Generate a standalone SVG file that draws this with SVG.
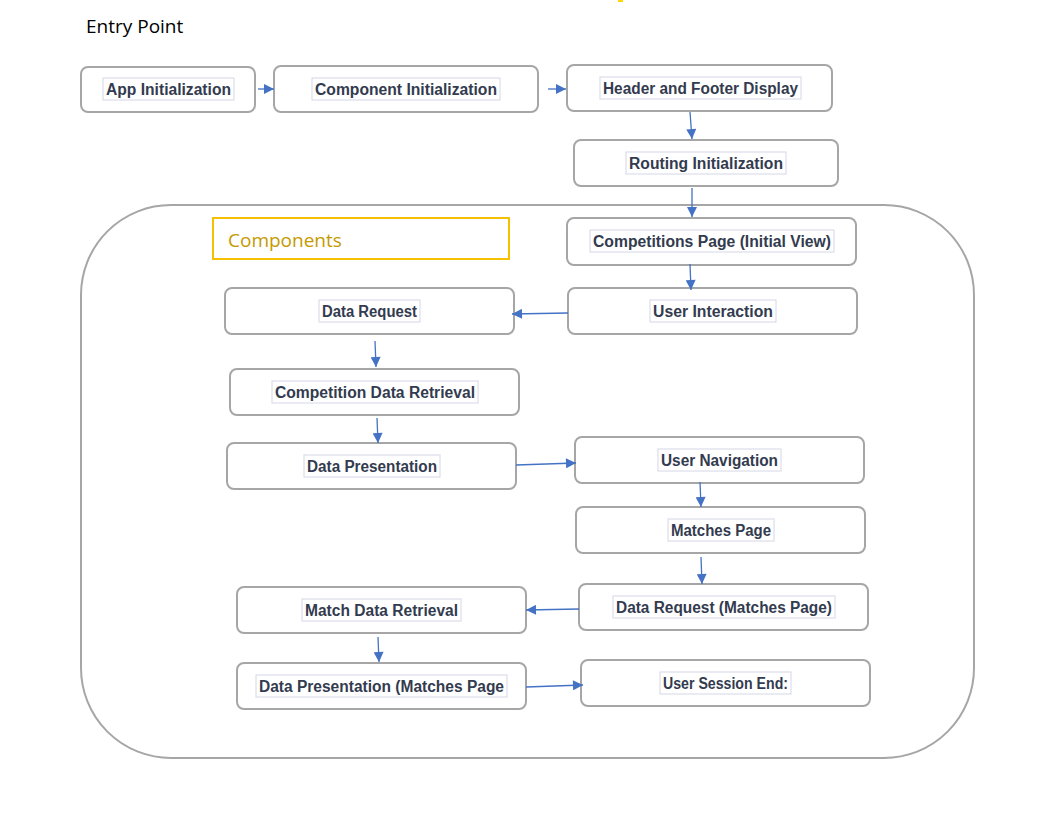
<svg xmlns="http://www.w3.org/2000/svg" width="1046" height="821" viewBox="0 0 1046 821">
<style>
.node{fill:#fff;stroke:#a6a6a6;stroke-width:2}
.lbl{fill:#fff;stroke:#d6d8e6;stroke-width:1}
.t{font-family:"Liberation Sans",Arial,sans-serif;font-weight:bold;font-size:16px;fill:#333b4f;text-anchor:middle;dominant-baseline:central}
.c{stroke:#4472c4;stroke-width:1.3;fill:none;marker-end:url(#ah)}
</style>
<defs>
<marker id="ah" viewBox="0 0 10 10" refX="10" refY="5" markerWidth="12" markerHeight="10" markerUnits="userSpaceOnUse" orient="auto">
<path d="M0,0 L10,5 L0,10 z" fill="#4472c4"/>
</marker>
</defs>
<rect width="1046" height="821" fill="#fff"/>
<rect x="618" y="0" width="5" height="2" fill="#ffd700"/>
<text x="86" y="33" font-family="'Open Sans','Liberation Sans',sans-serif" font-size="19" fill="#000">Entry Point</text>

<g id="components-container">
<rect x="81" y="205" width="893" height="553" rx="90" ry="90" fill="none" stroke="#a6a6a6" stroke-width="2"/>
<rect x="213" y="218" width="296" height="41" fill="#fff" stroke="#f5c000" stroke-width="2"/>
<text x="228" y="247" font-family="'Open Sans','Liberation Sans',sans-serif" font-size="19" fill="#c49a00">Components</text>
</g>

<g id="app-init"><rect class="node" x="81" y="67" width="174" height="45" rx="7"/><rect class="lbl" x="103" y="78" width="131" height="22"/><text class="t" x="168.5" y="89" textLength="125" lengthAdjust="spacingAndGlyphs">App Initialization</text></g>
<g id="component-init"><rect class="node" x="274" y="66" width="264" height="46" rx="7"/><rect class="lbl" x="312" y="78" width="188" height="22"/><text class="t" x="406" y="89" textLength="182" lengthAdjust="spacingAndGlyphs">Component Initialization</text></g>
<g id="header-footer"><rect class="node" x="567" y="65" width="265" height="46" rx="7"/><rect class="lbl" x="600" y="77" width="201" height="22"/><text class="t" x="700.5" y="88" textLength="195" lengthAdjust="spacingAndGlyphs">Header and Footer Display</text></g>
<g id="routing-init"><rect class="node" x="574" y="140" width="264" height="46" rx="7"/><rect class="lbl" x="626" y="152" width="160" height="22"/><text class="t" x="706" y="163" textLength="154" lengthAdjust="spacingAndGlyphs">Routing Initialization</text></g>
<g id="competitions-page"><rect class="node" x="567" y="218" width="289" height="47" rx="7"/><rect class="lbl" x="590" y="230" width="244" height="22"/><text class="t" x="712" y="241" textLength="238" lengthAdjust="spacingAndGlyphs">Competitions Page (Initial View)</text></g>
<g id="user-interaction"><rect class="node" x="568" y="288" width="289" height="46" rx="7"/><rect class="lbl" x="650" y="300" width="126" height="22"/><text class="t" x="713" y="311" textLength="120" lengthAdjust="spacingAndGlyphs">User Interaction</text></g>
<g id="data-request"><rect class="node" x="225" y="288" width="289" height="46" rx="7"/><rect class="lbl" x="319" y="300" width="101" height="22"/><text class="t" x="369.5" y="311" textLength="95" lengthAdjust="spacingAndGlyphs">Data Request</text></g>
<g id="competition-data-retrieval"><rect class="node" x="230" y="369" width="289" height="46" rx="7"/><rect class="lbl" x="272" y="381" width="206" height="22"/><text class="t" x="375" y="392" textLength="200" lengthAdjust="spacingAndGlyphs">Competition Data Retrieval</text></g>
<g id="data-presentation"><rect class="node" x="227" y="443" width="289" height="46" rx="7"/><rect class="lbl" x="304" y="455" width="136" height="22"/><text class="t" x="372" y="466" textLength="130" lengthAdjust="spacingAndGlyphs">Data Presentation</text></g>
<g id="user-navigation"><rect class="node" x="575" y="437" width="289" height="46" rx="7"/><rect class="lbl" x="658" y="449" width="123" height="22"/><text class="t" x="719.5" y="460" textLength="117" lengthAdjust="spacingAndGlyphs">User Navigation</text></g>
<g id="matches-page"><rect class="node" x="576" y="507" width="289" height="46" rx="7"/><rect class="lbl" x="668" y="519" width="106" height="22"/><text class="t" x="721" y="530" textLength="100" lengthAdjust="spacingAndGlyphs">Matches Page</text></g>
<g id="data-request-matches"><rect class="node" x="579" y="584" width="289" height="46" rx="7"/><rect class="lbl" x="613" y="596" width="222" height="22"/><text class="t" x="724" y="607" textLength="216" lengthAdjust="spacingAndGlyphs">Data Request (Matches Page)</text></g>
<g id="match-data-retrieval"><rect class="node" x="237" y="587" width="289" height="46" rx="7"/><rect class="lbl" x="302" y="599" width="159" height="22"/><text class="t" x="381.5" y="610" textLength="153" lengthAdjust="spacingAndGlyphs">Match Data Retrieval</text></g>
<g id="data-presentation-matches"><rect class="node" x="237" y="663" width="289" height="46" rx="7"/><rect class="lbl" x="256" y="675" width="251" height="22"/><text class="t" x="381.5" y="686" textLength="245" lengthAdjust="spacingAndGlyphs">Data Presentation (Matches Page</text></g>
<g id="user-session-end"><rect class="node" x="581" y="660" width="289" height="46" rx="7"/><rect class="lbl" x="660" y="672" width="131" height="22"/><text class="t" x="725.5" y="683" textLength="125" lengthAdjust="spacingAndGlyphs">User Session End:</text></g>

<g id="connectors">
<line class="c" x1="258" y1="89" x2="274" y2="89"/>
<line class="c" x1="548" y1="89" x2="566" y2="89"/>
<line class="c" x1="690" y1="112" x2="692" y2="139"/>
<line class="c" x1="692" y1="188" x2="692" y2="217"/>
<line class="c" x1="690" y1="264" x2="691" y2="290"/>
<line class="c" x1="568" y1="313" x2="512" y2="314"/>
<line class="c" x1="375" y1="341" x2="376" y2="367"/>
<line class="c" x1="377" y1="418" x2="378" y2="443"/>
<line class="c" x1="516" y1="465" x2="576" y2="463"/>
<line class="c" x1="700" y1="482" x2="701" y2="507"/>
<line class="c" x1="701" y1="557" x2="702" y2="584"/>
<line class="c" x1="579" y1="609" x2="526" y2="610"/>
<line class="c" x1="378" y1="637" x2="379" y2="662"/>
<line class="c" x1="526" y1="687" x2="583" y2="685"/>
</g>
</svg>
